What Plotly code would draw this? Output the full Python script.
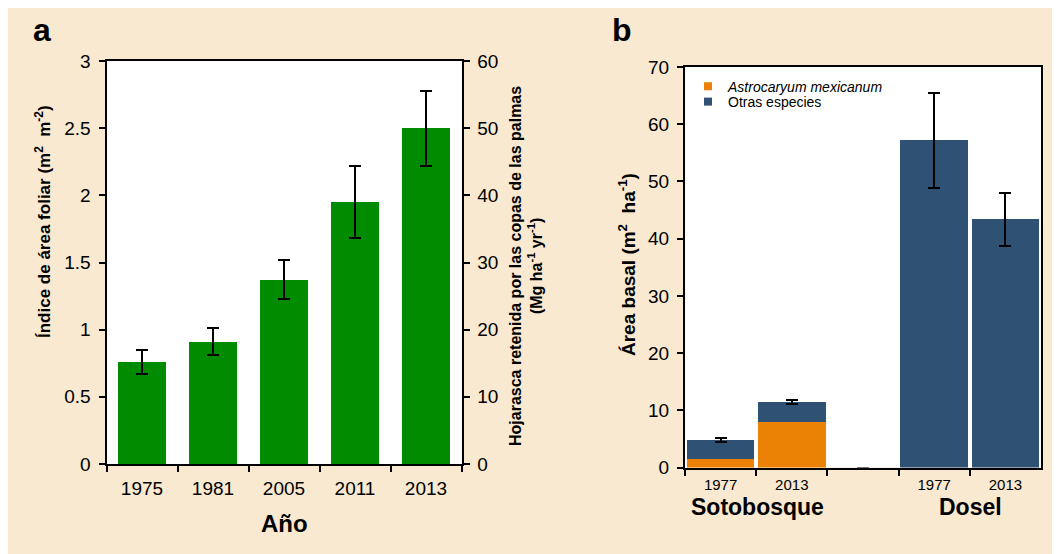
import plotly.graph_objects as go

# ---------------- data ----------------
years_a = ["1975", "1981", "2005", "2011", "2013"]
lai = [0.76, 0.91, 1.37, 1.95, 2.50]
lai_err = [0.09, 0.10, 0.145, 0.265, 0.28]
litter_factor = 20  # right axis (0-60) vs left axis (0-3)

b_keys = ["S1977", "S2013", "gap", "D1977", "D2013"]
b_ticktext = ["1977", "2013", "", "1977", "2013"]
astro = [1.45, 8.0, 0, 0, 0]
otras = [3.35, 3.4, 0, 57.2, 43.4]
total_err = [0.4, 0.35, 0, 8.3, 4.65]

FONT = "Liberation Sans, Arial, sans-serif"
BG = "#F8E9D0"
GREEN = "#008B00"
ORANGE = "#EB8205"
BLUE = "#2F5274"

W, H = 1060, 554
OFF = 8  # page offset of the figure in the screenshot
def px_x(p):
    return (p - OFF) / W
def px_y(p):
    return 1 - (p - OFF) / H

fig = go.Figure()

# panel a
fig.add_trace(go.Bar(x=years_a, y=lai, width=0.667, marker=dict(color=GREEN, line=dict(width=0)),
                     error_y=dict(type="data", array=lai_err, color="black", thickness=2, width=6),
                     xaxis="x", yaxis="y", showlegend=False))
fig.add_trace(go.Scatter(x=years_a, y=[v * litter_factor for v in lai], mode="markers",
                         marker=dict(opacity=0), xaxis="x", yaxis="y2", showlegend=False,
                         hoverinfo="skip"))

# panel b
fig.add_trace(go.Bar(x=b_keys, y=astro, width=0.95, marker=dict(color=ORANGE, line=dict(width=0)),
                     xaxis="x2", yaxis="y3", showlegend=False))
fig.add_trace(go.Bar(x=b_keys, y=otras, width=0.95, marker=dict(color=BLUE, line=dict(width=0)),
                     error_y=dict(type="data", array=total_err, color="black", thickness=2, width=6),
                     xaxis="x2", yaxis="y3", showlegend=False))
# legend proxies
fig.add_trace(go.Scatter(x=[None], y=[None], mode="markers", name="<i>Astrocaryum mexicanum</i>",
                         marker=dict(symbol="square", size=8, color=ORANGE),
                         xaxis="x2", yaxis="y3", legend="legend"))
fig.add_trace(go.Scatter(x=[None], y=[None], mode="markers", name="Otras especies",
                         marker=dict(symbol="square", size=8, color=BLUE),
                         xaxis="x2", yaxis="y3", legend="legend2"))

axis_common = dict(showline=True, linecolor="black", linewidth=2, ticks="outside",
                   tickcolor="black", tickwidth=2, ticklen=6, showgrid=False, zeroline=False,
                   automargin=False)

fig.update_layout(
    template="none",
    width=W, height=H,
    margin=dict(l=0, r=0, t=0, b=0, pad=0, autoexpand=False),
    paper_bgcolor=BG, plot_bgcolor="white",
    barmode="stack",
    font=dict(family=FONT, color="black"),
    xaxis=dict(domain=[px_x(106.5), px_x(461.5)], anchor="y", type="category", tickson="boundaries",
               mirror=True, tickfont=dict(size=19), ticklabelstandoff=6, **axis_common),
    yaxis=dict(domain=[px_y(464), px_y(61)], anchor="x", range=[0, 3], dtick=0.5,
               tickfont=dict(size=19), ticklabelstandoff=4, **axis_common),
    yaxis2=dict(domain=[px_y(464), px_y(61)], anchor="x", overlaying="y", side="right",
                range=[0, 60], dtick=10, tickfont=dict(size=19), ticklabelstandoff=4, **axis_common),
    xaxis2=dict(domain=[px_x(685), px_x(1041)], anchor="y3", type="category", tickson="boundaries",
                tickmode="array", tickvals=b_keys, ticktext=b_ticktext, mirror=True,
                tickfont=dict(size=15), ticklabelstandoff=2, **axis_common),
    yaxis3=dict(domain=[px_y(467.5), px_y(67)], anchor="x2", range=[0, 70], dtick=10, mirror=True,
                tickfont=dict(size=19), ticklabelstandoff=4, **axis_common),
    legend=dict(x=px_x(688), y=px_y(86.7), xanchor="left", yanchor="middle",
                bgcolor="rgba(0,0,0,0)", font=dict(size=14), itemwidth=30),
    legend2=dict(x=px_x(688), y=px_y(102), xanchor="left", yanchor="middle",
                 bgcolor="rgba(0,0,0,0)", font=dict(size=14), itemwidth=30),
)

ann = [
    dict(text="<b>a</b>", x=px_x(42), y=px_y(30), font=dict(size=32)),
    dict(text="<b>b</b>", x=px_x(622), y=px_y(30), font=dict(size=32)),
    dict(text="<b>Índice de área foliar (m<sup>2</sup>  m<sup>-2</sup>)</b>", x=px_x(43), y=px_y(222),
         textangle=-90, font=dict(size=17)),
    dict(text="<b>Hojarasca retenida por las copas de las palmas<br>(Mg ha<sup>-1</sup> yr<sup>-1</sup>)</b>",
         x=px_x(526), y=px_y(266), textangle=-90, font=dict(size=16)),
    dict(text="<b>Año</b>", x=px_x(284), y=px_y(523), font=dict(size=24)),
    dict(text="<b>Área basal (m<sup>2</sup>  ha<sup>-1</sup>)</b>", x=px_x(627), y=px_y(265),
         textangle=-90, font=dict(size=19)),
    dict(text="<b>Sotobosque</b>", x=px_x(757), y=px_y(507), font=dict(size=23)),
    dict(text="<b>Dosel</b>", x=px_x(970), y=px_y(507), font=dict(size=23)),
]
for a in ann:
    a.update(xref="paper", yref="paper", showarrow=False, xanchor="center", yanchor="middle")
fig.update_layout(annotations=ann)

fig.write_html("out.html")
